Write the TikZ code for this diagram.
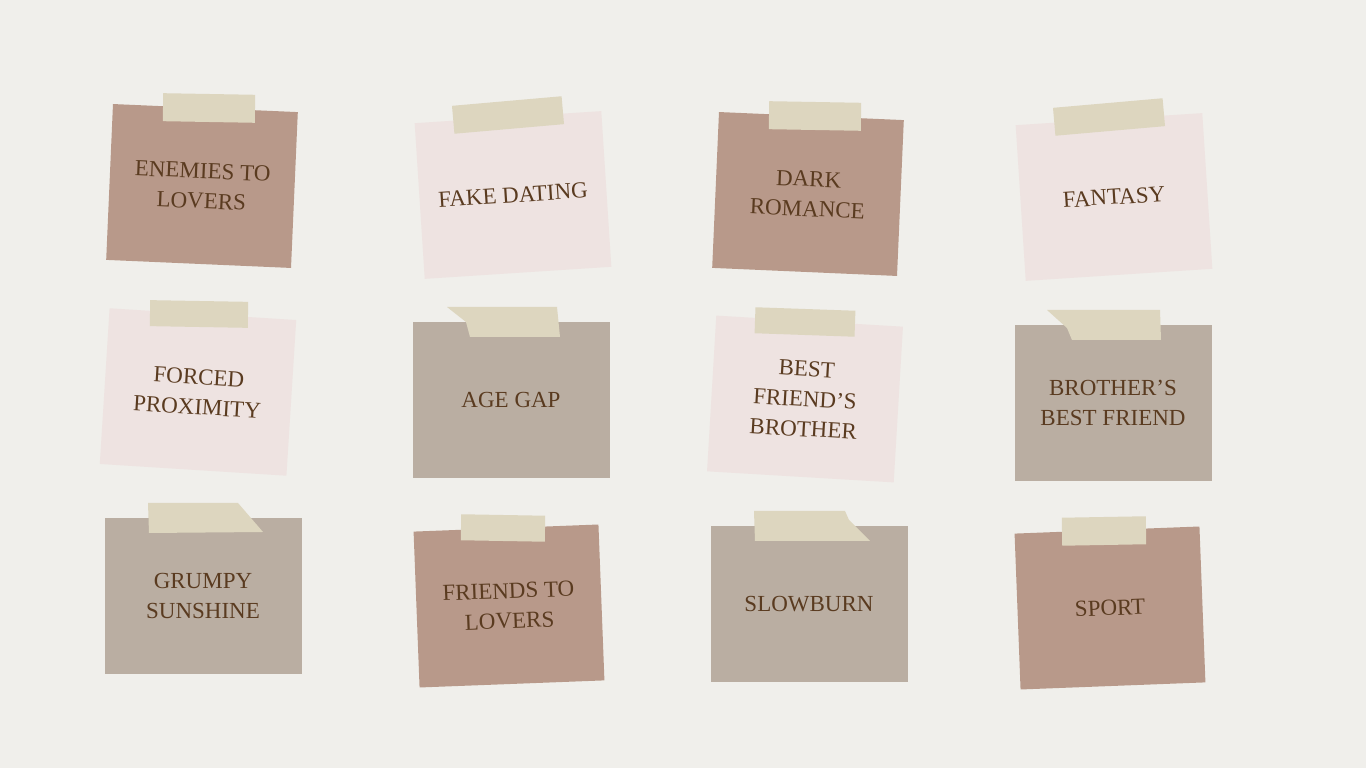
\documentclass[tikz,border=0pt]{standalone}
\usepackage{fontspec}
\setmainfont{Liberation Serif}
\definecolor{paper}{HTML}{F0EFEB}
\definecolor{kraftcol}{HTML}{B8998A}
\definecolor{blushcol}{HTML}{EEE3E1}
\definecolor{stonecol}{HTML}{BAAEA2}
\definecolor{tapecol}{HTML}{DDD6BF}
\definecolor{ink}{HTML}{5A3B20}

\begin{document}
\begin{tikzpicture}[x=1pt, y=1pt,
  note/.style = {minimum height=156pt, inner sep=0pt, align=center, text=ink, font=\fontsize{23}{30}\selectfont},
  kraft/.style = {note, fill=kraftcol, minimum width=185pt},
  blush/.style = {note, fill=blushcol, minimum width=187pt},
  stone/.style = {note, fill=stonecol, minimum width=197pt},
  tape/.style = {fill=tapecol, minimum height=28pt, inner sep=0pt}]
\fill[paper] (0,0) rectangle (1366,768);

\node[kraft, rotate=-2.5] (1) at (202,582) {ENEMIES TO\\LOVERS};
\node[blush, rotate=3.7] (2) at (513,573) {FAKE DATING};
\node[kraft, rotate=-2.5] (3) at (808,574) {DARK\\ROMANCE};
\node[blush, rotate=3.7] (4) at (1114,571) {FANTASY};
\node[blush, rotate=-3.6] (5) at (198,376) {FORCED\\PROXIMITY};
\node[stone] (6) at (511,368) {AGE GAP};
\node[blush, rotate=-3.4] (7) at (805,369) {BEST\\FRIEND'S\\BROTHER};
\node[stone] (8) at (1113,365) {BROTHER'S\\BEST FRIEND};
\node[stone] (9) at (203,172) {GRUMPY\\SUNSHINE};
\node[kraft, rotate=2.2] (10) at (509,162) {FRIENDS TO\\LOVERS};
\node[stone] (11) at (809,164) {SLOWBURN};
\node[kraft, rotate=2.2] (12) at (1110,160) {SPORT};

\node[tape, minimum width=92pt, rotate=-1] (t1) at (209,660) {};
\node[tape, minimum width=110pt, rotate=5] (t2) at (508,653) {};
\node[tape, minimum width=92pt, rotate=-1] (t3) at (815,652) {};
\node[tape, minimum width=110pt, rotate=5] (t4) at (1109,651) {};
\node[tape, minimum width=98pt, minimum height=26pt, rotate=-1] (t5) at (199,454) {};
\node[tape, minimum width=100pt, minimum height=26pt, rotate=-2] (t7) at (805,446) {};
\node[tape, minimum width=84pt, minimum height=26pt, rotate=-1] (t10) at (503,240) {};
\node[tape, minimum width=84pt, rotate=1] (t12) at (1104,237) {};
\fill[tapecol] (447,461) -- (557,461) -- (560,431) -- (470,431) -- (466,446) -- cycle;
\fill[tapecol] (1047,458) -- (1160,458) -- (1161,428) -- (1072,428) -- (1067,440) -- cycle;
\fill[tapecol] (148,265) -- (238,265) -- (263,236) -- (149,235) -- cycle;
\fill[tapecol] (754,257) -- (845,257) -- (849,248) -- (870,227) -- (755,227) -- cycle;
\end{tikzpicture}
\end{document}
